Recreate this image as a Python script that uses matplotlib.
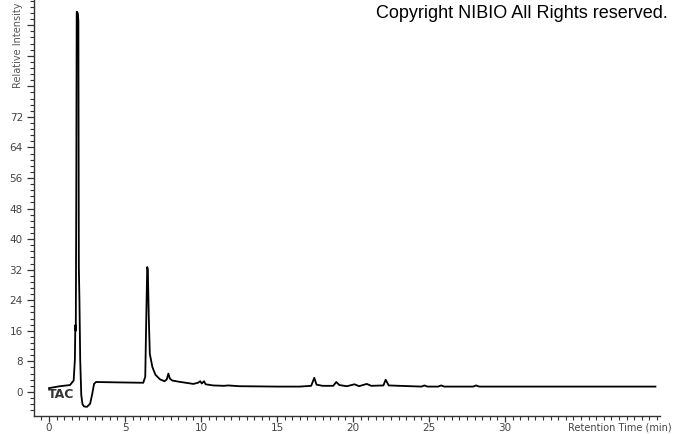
import numpy as np
import matplotlib
matplotlib.use("Agg")
import matplotlib.pyplot as plt
from matplotlib.ticker import MultipleLocator, FuncFormatter

# TAC trace: retention time (min) and relative intensity
rt = [0.0, 0.72, 1.38, 1.62, 1.70, 1.73, 1.76, 1.79, 1.82, 1.85, 1.90, 1.93,
      1.96, 2.00, 2.05, 2.12, 2.20, 2.30, 2.50, 2.70, 2.83, 2.96, 3.09,
      4.5, 6.2, 6.33, 6.40, 6.46, 6.50, 6.56, 6.63, 6.80, 7.0, 7.3, 7.6,
      7.75, 7.85, 7.95, 8.1, 8.5, 9.0, 9.5, 9.8, 9.95, 10.05, 10.2, 10.3,
      10.8, 11.5, 11.8, 12.5, 15.0, 16.5, 17.25, 17.45, 17.6, 18.0, 18.7,
      18.9, 19.1, 19.6, 20.1, 20.4, 20.9, 21.2, 22.0, 22.15, 22.35, 24.5,
      24.7, 24.9, 25.6, 25.8, 26.0, 27.9, 28.1, 28.3, 39.9]
intensity = [1.0, 1.5, 1.8, 3.0, 8.5, 17.5, 16.0, 50.0, 99.5, 99.5, 99.0, 97.0,
             32.7, 24.0, 8.4, -0.8, -3.2, -3.8, -3.9, -3.1, -0.8, 2.1, 2.6,
             2.5, 2.4, 4.0, 20.0, 32.7, 32.0, 20.0, 10.0, 6.5, 4.5, 3.3, 2.8,
             3.3, 4.8, 3.5, 3.0, 2.7, 2.4, 2.1, 2.4, 2.8, 2.2, 2.8, 2.0,
             1.7, 1.6, 1.7, 1.5, 1.4, 1.4, 1.6, 3.7, 1.9, 1.6, 1.6,
             2.6, 1.8, 1.5, 2.0, 1.5, 2.1, 1.6, 1.7, 3.2, 1.7, 1.4,
             1.7, 1.4, 1.4, 1.7, 1.4, 1.4, 1.7, 1.4, 1.4]

x_major = 5
y_major = 8
y_labelled_max = 72

fig = plt.figure(figsize=(6.74, 4.34), dpi=100)
ax = fig.add_axes([34 / 674, 18 / 434, 626 / 674, 416 / 434])

ax.plot(rt, intensity, color="black", lw=1.3)

ax.set_xlim(-0.99, 40.2)
ax.set_ylim(-6.3, 102.6)

for s in ["top", "right"]:
    ax.spines[s].set_visible(False)
for s in ["left", "bottom"]:
    ax.spines[s].set_color("#333333")
    ax.spines[s].set_linewidth(1.0)

ax.xaxis.set_major_locator(MultipleLocator(x_major))
ax.xaxis.set_minor_locator(MultipleLocator(0.5))
ax.yaxis.set_major_locator(MultipleLocator(y_major))
ax.yaxis.set_minor_locator(MultipleLocator(1.6))
ax.set_xticks(np.arange(0, 31, x_major))
ax.yaxis.set_major_formatter(FuncFormatter(
    lambda v, p: f"{v:.0f}" if 0 <= v <= y_labelled_max else ""))

ax.tick_params(axis="y", which="major", length=5, width=0.9, color="#333333",
               labelsize=7.5, labelcolor="#444444", pad=3)
ax.tick_params(axis="x", which="major", length=4, width=0.9, color="#333333",
               labelsize=7.5, labelcolor="#444444", pad=1)
ax.tick_params(axis="both", which="minor", length=3, width=0.8, color="#333333")

fig.text(18 / 674, 1 - 88 / 434, "Relative Intensity", rotation=90,
         ha="center", va="bottom", fontsize=7, color="#555555")
fig.text(672 / 674, 1 - 428 / 434, "Retention Time (min)", ha="right",
         va="center", fontsize=7, color="#444444")
fig.text(48 / 674, 1 - 395 / 434, "TAC", ha="left", va="center",
         fontsize=9, fontweight="bold", color="#333333")
fig.text(668 / 674, 1 - 14 / 434, "Copyright NIBIO All Rights reserved.",
         ha="right", va="center", fontsize=13, family="Liberation Sans",
         color="black")

fig.savefig("out.png", dpi=100)
